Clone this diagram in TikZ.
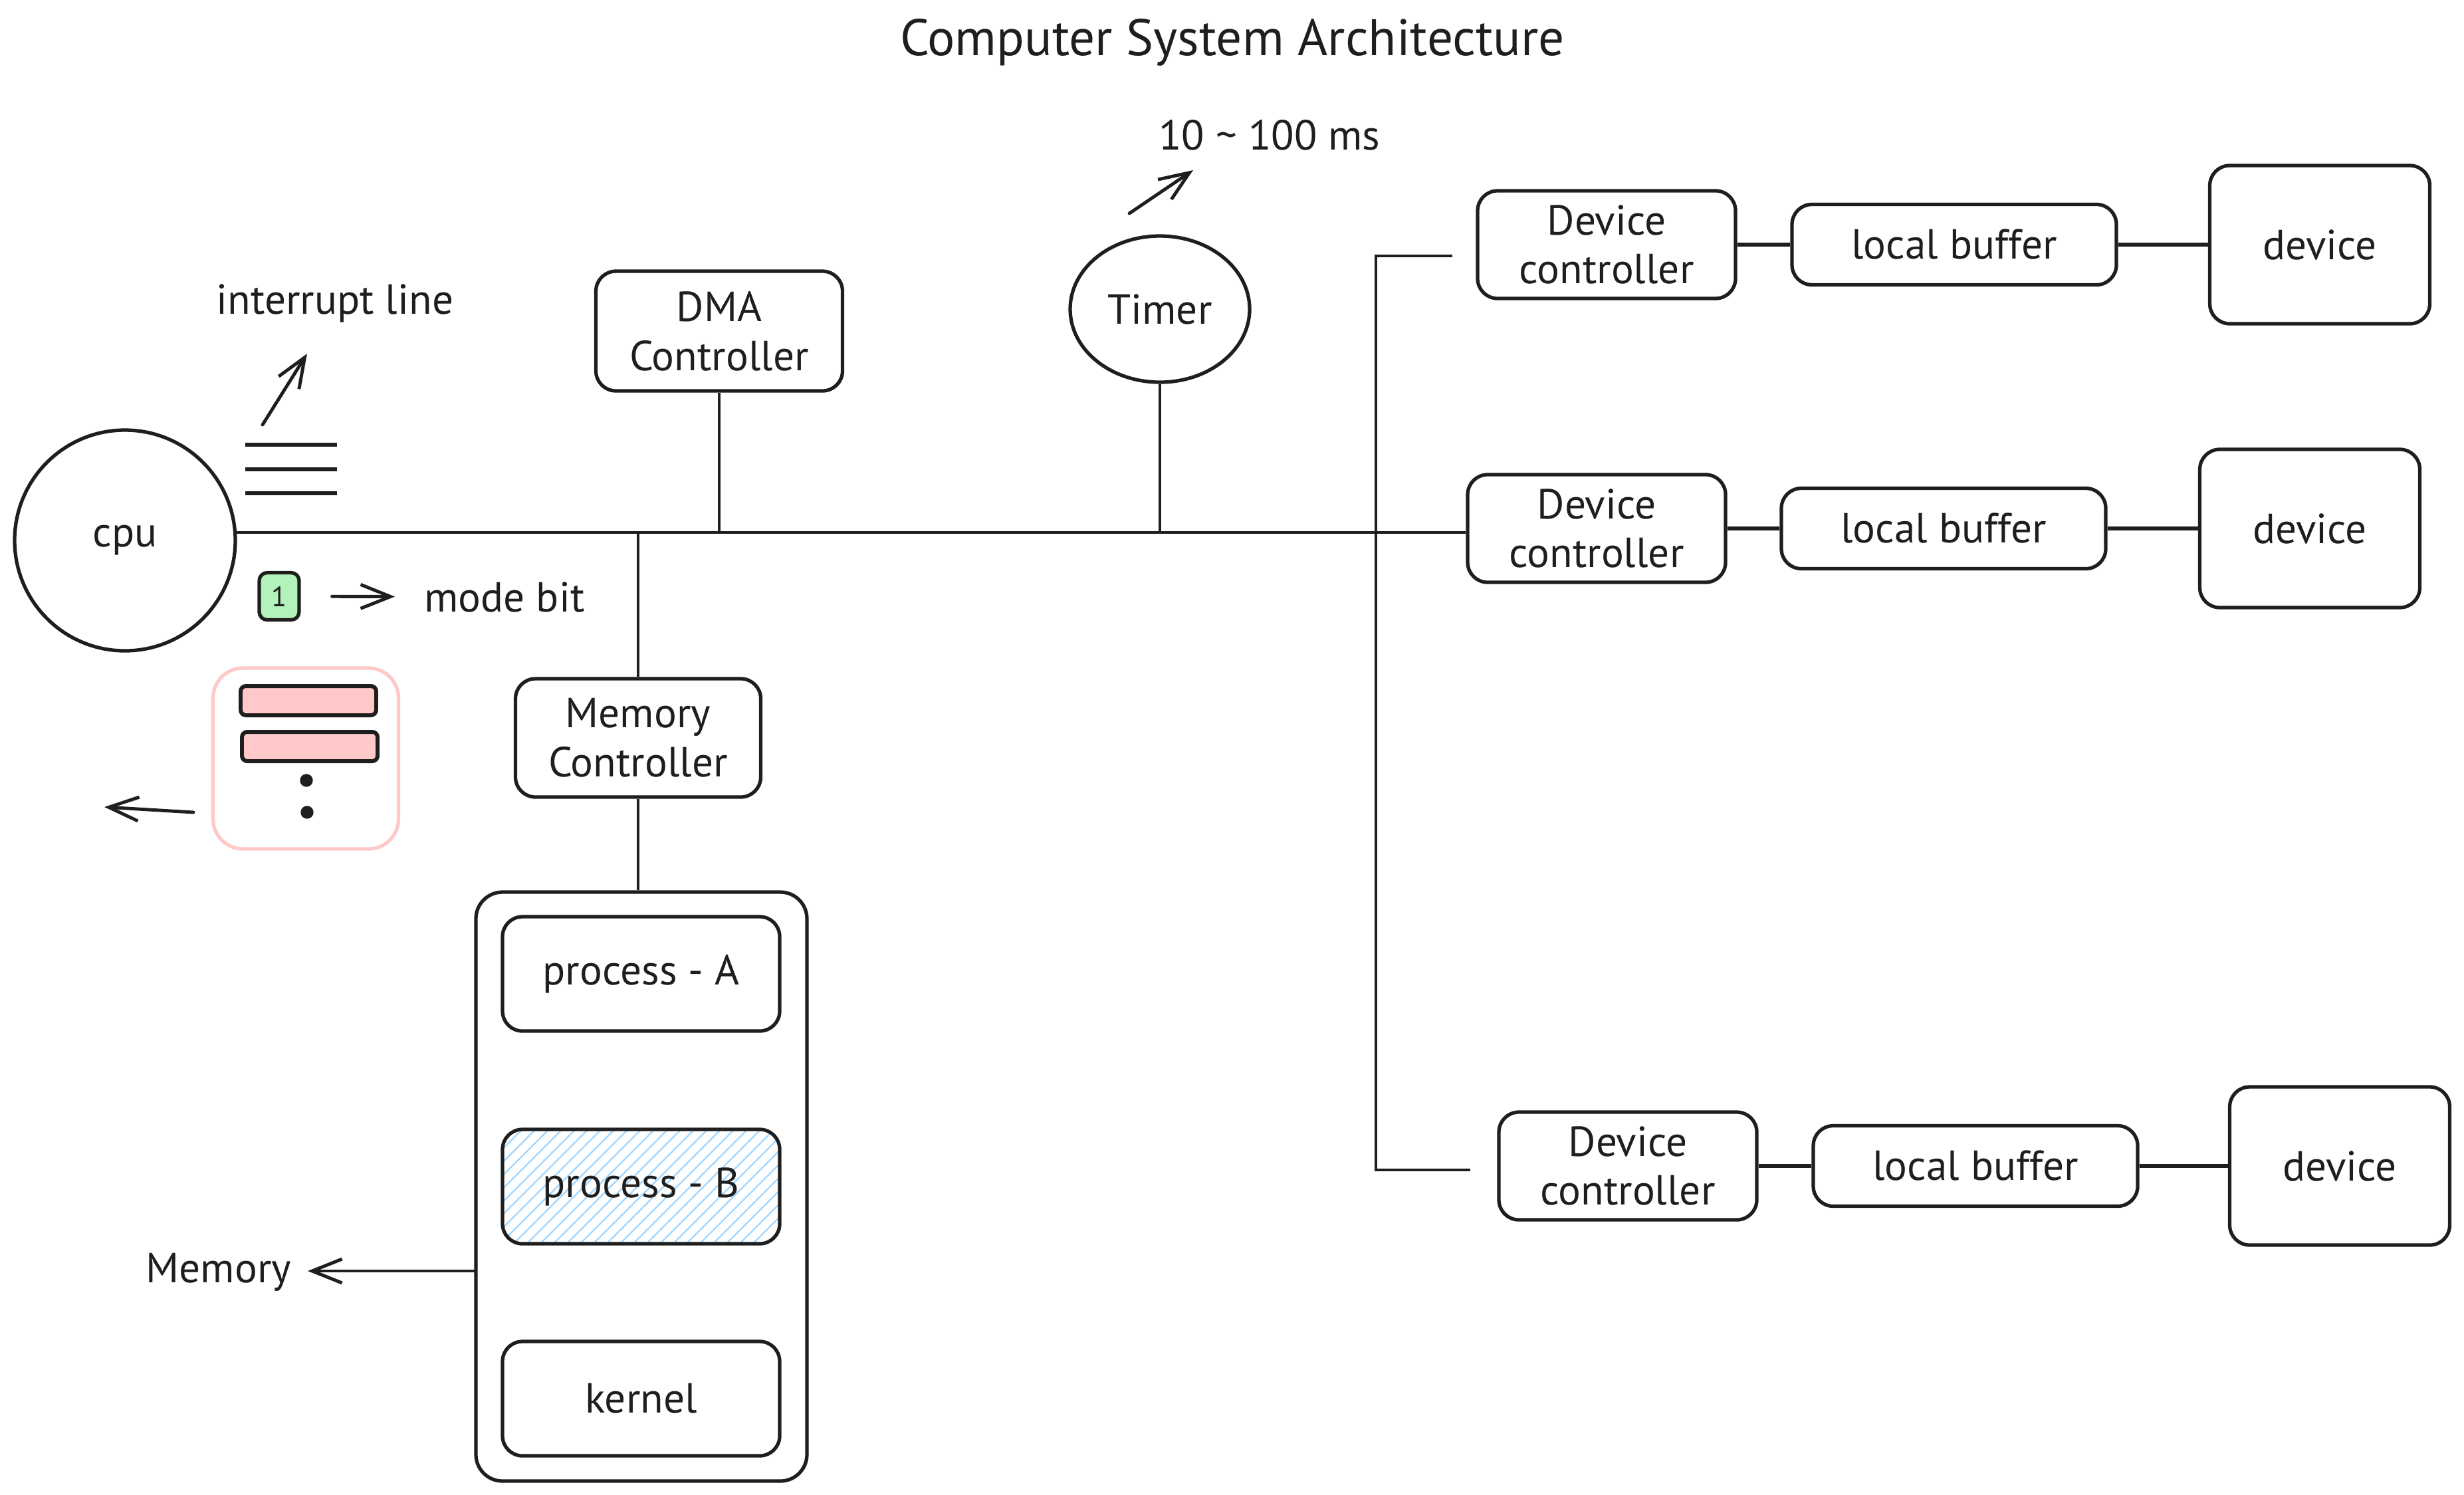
\documentclass[tikz,border=0pt]{standalone}
\usepackage{fontspec}
\setmainfont{PT Sans}
\usetikzlibrary{arrows.meta,patterns.meta,shapes.geometric}

\definecolor{ink}{HTML}{1E1E1E}
\definecolor{bitgreen}{HTML}{B2F2BB}
\definecolor{regpink}{HTML}{FFC9C9}
\definecolor{hatchblue}{HTML}{A5D8FF}

\tikzset{
	box/.style={draw=ink, line width=1.5pt, rounded corners=0.3cm, align=center, inner sep=0pt},
	ctrl/.style={box, minimum width=3.88cm, minimum height=1.62cm},
	buf/.style={box, minimum width=4.88cm, minimum height=1.21cm},
	dev/.style={box, minimum width=3.31cm, minimum height=2.38cm},
	proc/.style={box, minimum width=4.17cm, minimum height=1.72cm},
	reg/.style={draw=ink, fill=regpink, line width=1.7pt, rounded corners=0.08cm, minimum width=2.04cm, minimum height=0.44cm, inner sep=0pt},
	wire/.style={draw=ink, line width=1.2pt},
	arr/.style={wire, line width=1.4pt, line cap=round, -{Straight Barb[length=4.5mm, width=3.6mm]}},
}

\begin{document}
\begin{tikzpicture}[color=ink, font=\fontsize{18}{21}\selectfont]
	\useasboundingbox (0,0) rectangle (37.07,-22.48);
	\node[font=\fontsize{22}{26}\selectfont] (title) at (18.54,-0.64) {Computer System Architecture};

	\node[draw=ink, circle, line width=1.5pt, minimum size=3.32cm] (cpu) at (1.88,-8.13) {cpu};
	\foreach \y in {6.69,7.06,7.42}
		\draw[wire, line width=1.7pt] (3.69,-\y) -- (5.07,-\y);
	\coordinate (irq0) at (3.95,-6.39);
	\coordinate (irq1) at (4.62,-5.32);
	\draw[arr] (irq0) -- (irq1);
	\node (irqlbl) at (5.04,-4.56) {interrupt line};

	\node[draw=ink, fill=bitgreen, line width=1.5pt, rounded corners=0.12cm, minimum width=0.60cm, minimum height=0.71cm, inner sep=0pt, font=\fontsize{12}{14}\selectfont] (bit) at (4.20,-8.97) {1};
	\node (modelbl) at (7.59,-8.98) {mode bit};
	\draw[arr, shorten <=4.7mm, shorten >=3.2mm] (bit) -- (modelbl);

	\node[draw=regpink, line width=1.5pt, rounded corners=0.45cm, minimum width=2.79cm, minimum height=2.72cm] (stack) at (4.60,-11.41) {};
	\node[reg] (reg1) at (4.64,-10.54) {};
	\node[reg] (reg2) at (4.66,-11.23) {};
	\filldraw (4.61,-11.74) circle (0.09);
	\filldraw (4.62,-12.22) circle (0.09);
	\coordinate (pop0) at (2.91,-12.22);
	\coordinate (pop1) at (1.57,-12.14);
	\draw[arr] (pop0) -- (pop1);

	\node[box, minimum width=3.71cm, minimum height=1.80cm] (dma) at (10.82,-4.98) {DMA\\Controller};
	\node[draw=ink, ellipse, line width=1.5pt, minimum width=2.70cm, minimum height=2.20cm, inner sep=0pt] (timer) at (17.45,-4.65) {Timer};
	\coordinate (tick0) at (16.99,-3.21);
	\coordinate (tick1) at (17.95,-2.56);
	\draw[arr] (tick0) -- (tick1);
	\node (ticklbl) at (19.10,-2.03) {10 \textasciitilde{} 100 ms};

	\node[box, minimum width=3.69cm, minimum height=1.78cm] (memctl) at (9.60,-11.10) {Memory\\Controller};
	\node[box, rounded corners=0.4cm, minimum width=4.98cm, minimum height=8.86cm] (mem) at (9.65,-17.85) {};
	\node[proc] (pa) at (9.645,-14.65) {process - A};
	\node[proc, pattern={Lines[angle=45, distance=4pt, line width=0.7pt]}, pattern color=hatchblue] (pb) at (9.645,-17.85) {process - B};
	\node[proc] (kern) at (9.645,-21.04) {kernel};
	\node (memlbl) at (3.29,-19.14) {Memory};
	\coordinate (memtip) at (4.63,-19.12);
	\draw[arr] (mem.west |- memtip) -- (memtip);

	\node[ctrl] (dc1) at (24.17,-3.68) {Device\\controller};
	\node[buf] (lb1) at (29.40,-3.68) {local buffer};
	\node[dev] (dv1) at (34.90,-3.68) {device};
	\node[ctrl] (dc2) at (24.02,-7.95) {Device\\controller};
	\node[buf] (lb2) at (29.24,-7.95) {local buffer};
	\node[dev] (dv2) at (34.75,-7.95) {device};
	\node[ctrl] (dc3) at (24.49,-17.54) {Device\\controller};
	\node[buf] (lb3) at (29.72,-17.54) {local buffer};
	\node[dev] (dv3) at (35.20,-17.54) {device};
	\draw[wire, line width=1.7pt] (dc1) -- (lb1) (lb1) -- (dv1);
	\draw[wire, line width=1.7pt] (dc2) -- (lb2) (lb2) -- (dv2);
	\draw[wire, line width=1.7pt] (dc3) -- (lb3) (lb3) -- (dv3);

	\draw[wire] (cpu.4) -- (cpu.4 -| dc2.west);
	\draw[wire] (dma.south) -- (dma.south |- cpu.4);
	\draw[wire] (timer.south) -- (timer.south |- cpu.4);
	\draw[wire] (memctl.north) -- (memctl.north |- cpu.4);
	\draw[wire] (memctl.south) -- (memctl.south |- mem.north);

	\coordinate (br1) at (21.85,-3.85);
	\coordinate (br3) at (22.12,-17.60);
	\draw[wire, line width=1pt] (br1) -- ++(-1.15,0) |- (br3);
\end{tikzpicture}
\end{document}
